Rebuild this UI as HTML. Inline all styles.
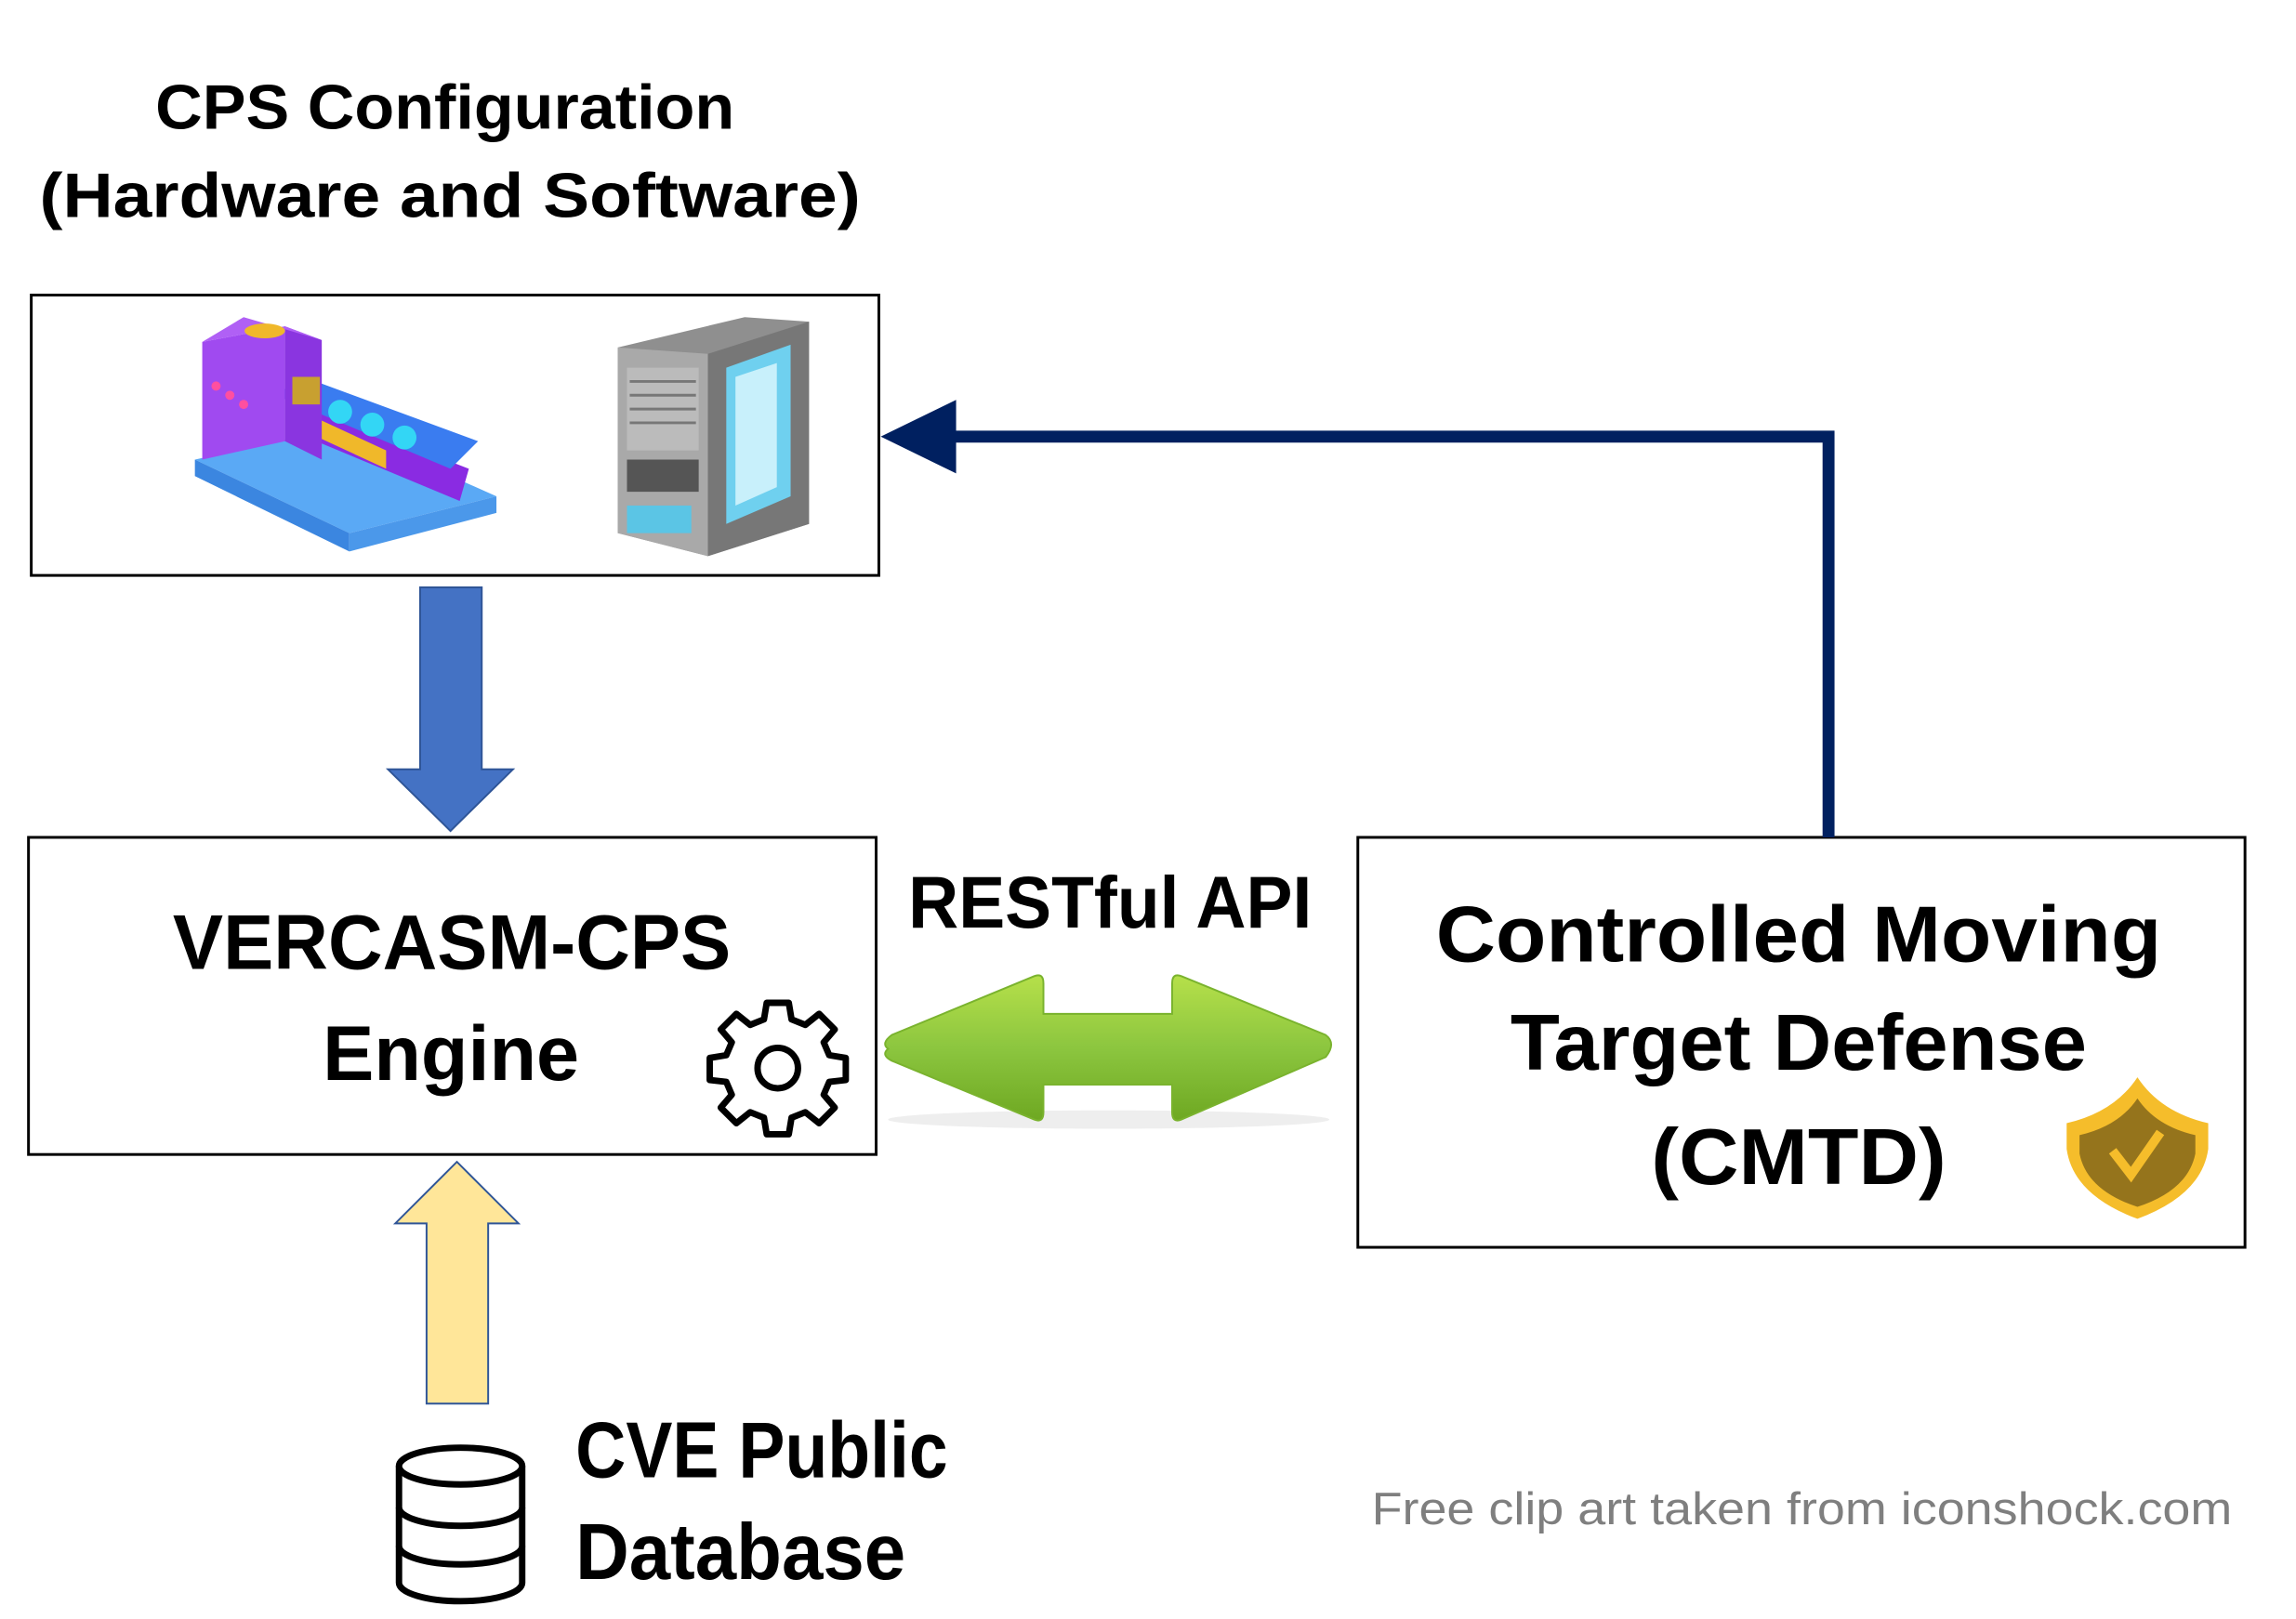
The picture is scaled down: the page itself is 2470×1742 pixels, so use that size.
<!DOCTYPE html>
<html><head><meta charset="utf-8"><style>
html,body{margin:0;padding:0;background:#fff;}
svg{display:block}
text{font-family:"Liberation Sans",sans-serif;font-weight:bold;fill:#000}
</style></head><body>
<svg width="2470" height="1742" viewBox="0 0 2470 1742" xmlns="http://www.w3.org/2000/svg">
<defs>
  <linearGradient id="gg" x1="0" y1="0" x2="0" y2="1">
    <stop offset="0" stop-color="#b6e04a"/><stop offset="0.5" stop-color="#8cc63f"/><stop offset="1" stop-color="#6ea822"/>
  </linearGradient>
</defs>
<g transform="scale(0.989)">
<!-- Titles -->
<text x="169" y="140" font-size="68" textLength="630" lengthAdjust="spacingAndGlyphs">CPS Configuration</text>
<text x="43" y="236" font-size="68" textLength="893" lengthAdjust="spacingAndGlyphs">(Hardware and Software)</text>

<!-- Top box -->
<rect x="34" y="321" width="922" height="305" fill="#fff" stroke="#000" stroke-width="3"/>
<!-- factory icon -->
<g>
  <polygon points="212,500 380,580 540,540 372,465" fill="#5aa9f5"/>
  <polygon points="212,500 380,580 380,600 212,518" fill="#3b86e0"/>
  <polygon points="380,580 540,540 540,558 380,600" fill="#4b98ea"/>
  <polygon points="320,470 500,545 510,510 330,440" fill="#8a2be2"/>
  <polygon points="300,430 490,510 520,480 330,410" fill="#3a7cf0"/>
  <circle cx="370" cy="448" r="13" fill="#33d6f5"/><circle cx="405" cy="462" r="13" fill="#33d6f5"/><circle cx="440" cy="476" r="13" fill="#33d6f5"/>
  <polygon points="312,440 420,490 420,510 312,460" fill="#f0b82a"/>
  <polygon points="220,372 310,355 310,480 220,500" fill="#a04af0"/>
  <polygon points="310,355 350,370 350,500 310,480" fill="#8a35e0"/>
  <polygon points="220,372 265,345 350,370 310,355" fill="#b060f5"/>
  <ellipse cx="288" cy="360" rx="22" ry="8" fill="#f0b82a"/>
  <rect x="318" y="410" width="30" height="30" fill="#c8a030"/>
  <circle cx="235" cy="420" r="5" fill="#ff4fa0"/><circle cx="250" cy="430" r="5" fill="#ff4fa0"/><circle cx="265" cy="440" r="5" fill="#ff4fa0"/>
</g>
<!-- server icon -->
<g>
  <polygon points="672,378 810,345 880,350 880,570 770,605 672,580" fill="#8f8f8f"/>
  <polygon points="672,378 770,385 770,605 672,580" fill="#a9a9a9"/>
  <polygon points="770,385 880,350 880,570 770,605" fill="#777"/>
  <polygon points="790,400 860,375 860,540 790,570" fill="#6fd0ef"/>
  <polygon points="800,410 845,395 845,530 800,550" fill="#c8f0fb"/>
  <rect x="682" y="400" width="78" height="90" fill="#bbb"/>
  <g stroke="#777" stroke-width="3"><line x1="685" y1="415" x2="757" y2="415"/><line x1="685" y1="430" x2="757" y2="430"/><line x1="685" y1="445" x2="757" y2="445"/><line x1="685" y1="460" x2="757" y2="460"/></g>
  <rect x="682" y="500" width="78" height="35" fill="#555"/>
  <rect x="682" y="550" width="70" height="30" fill="#5bc5e5"/>
</g>

<!-- blue down arrow -->
<polygon points="457,639 524,639 524,837 558,837 490,904 422,837 457,837" fill="#4472c4" stroke="#2f5597" stroke-width="2"/>

<!-- Engine box -->
<rect x="31" y="911" width="922" height="345" fill="#fff" stroke="#000" stroke-width="3"/>
<text x="188" y="1054" font-size="84" textLength="607" lengthAdjust="spacingAndGlyphs">VERCASM-CPS</text>
<text x="351" y="1175" font-size="84" textLength="279" lengthAdjust="spacingAndGlyphs">Engine</text>
<!-- gear -->
<g transform="translate(846,1162)" fill="none" stroke="#000" stroke-width="7" stroke-linejoin="round">
  <path d="M-12,-68 L12,-68 L15,-50 L30,-44 L45,-56 L62,-39 L50,-25 L56,-11 L74,-8 L74,16 L56,18 L50,32 L62,46 L45,63 L30,51 L15,57 L12,75 L-12,75 L-15,57 L-30,51 L-45,63 L-62,46 L-50,32 L-56,18 L-74,16 L-74,-8 L-56,-11 L-50,-25 L-62,-39 L-45,-56 L-30,-44 L-15,-50 Z" transform="translate(0,-3)"/>
  <circle cx="0" cy="0" r="22"/>
</g>

<!-- RESTful API -->
<text x="988" y="1009" font-size="80" textLength="439" lengthAdjust="spacingAndGlyphs">RESTful API</text>
<ellipse cx="1206" cy="1218" rx="240" ry="10" fill="#eee"/>
<path d="M966,1141 Q958,1135 970,1126 L1125,1062 Q1135,1058 1135,1070 L1135,1103 L1275,1103 L1275,1070 Q1275,1058 1285,1062 L1442,1126 Q1454,1135 1442,1150 L1285,1218 Q1275,1222 1275,1210 L1275,1180 L1135,1180 L1135,1210 Q1135,1222 1125,1218 L970,1154 Q958,1148 966,1141 Z" fill="url(#gg)" stroke="#7ab32e" stroke-width="2"/>

<!-- CMTD box -->
<rect x="1477" y="911" width="965" height="446" fill="#fff" stroke="#000" stroke-width="3"/>
<text x="1562" y="1046" font-size="86" textLength="789" lengthAdjust="spacingAndGlyphs">Controlled Moving</text>
<text x="1643" y="1164" font-size="86" textLength="627" lengthAdjust="spacingAndGlyphs">Target Defense</text>
<text x="1796" y="1288" font-size="86" textLength="321" lengthAdjust="spacingAndGlyphs">(CMTD)</text>
<!-- shield -->
<path d="M2325,1172 Q2350,1210 2402,1222 L2402,1250 Q2395,1300 2325,1326 Q2255,1300 2248,1250 L2248,1222 Q2300,1210 2325,1172 Z" fill="#f5bd2b"/>
<path d="M2325,1195 Q2345,1225 2388,1235 L2388,1255 Q2380,1295 2325,1313 Q2270,1295 2262,1255 L2262,1235 Q2305,1225 2325,1195 Z" fill="#95741c"/>
<polyline points="2298,1252 2318,1278 2350,1232" fill="none" stroke="#f5bd2b" stroke-width="10"/>

<!-- navy connector -->
<polyline points="1989,911 1989,475 1036,475" fill="none" stroke="#002060" stroke-width="13"/>
<polygon points="958,475 1040,435 1040,515" fill="#002060"/>

<!-- yellow up arrow -->
<polygon points="464,1527 531,1527 531,1331 564,1331 497,1264 430,1331 464,1331" fill="#ffe699" stroke="#2f5597" stroke-width="2"/>

<!-- database icon -->
<g fill="#fff" stroke="#000" stroke-width="7">
  <path d="M434,1595 L434,1722 A67,20 0 0 0 568,1722 L568,1595"/>
  <path d="M434,1640 A67,20 0 0 0 568,1640" fill="none"/>
  <path d="M434,1682 A67,20 0 0 0 568,1682" fill="none"/>
  <ellipse cx="501" cy="1595" rx="67" ry="20"/>
</g>
<text x="626" y="1607" font-size="86" textLength="405" lengthAdjust="spacingAndGlyphs">CVE Public</text>
<text x="626" y="1718" font-size="86" textLength="359" lengthAdjust="spacingAndGlyphs">Database</text>

<text x="1492" y="1658" font-size="50" style="font-weight:normal;fill:#7f7f7f" textLength="936" lengthAdjust="spacingAndGlyphs">Free clip art taken from iconshock.com</text>
</g>
</svg>
</body></html>
